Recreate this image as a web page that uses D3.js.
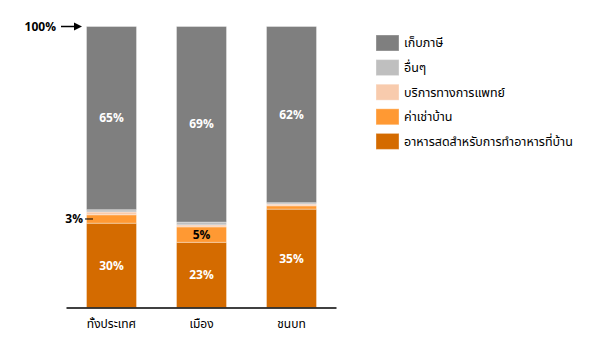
<!DOCTYPE html>
<html>
<head>
<meta charset="utf-8">
<script src="https://cdn.jsdelivr.net/npm/d3@7"></script>
<style>
body { margin: 0; background: #fff; }
svg text { font-family: "Noto Sans Thai", Tahoma, "Noto Sans", sans-serif; }
</style>
</head>
<body>
<svg id="chart" width="601" height="346"></svg>
<script>
var categories = ["ทั้งประเทศ", "เมือง", "ชนบท"];
// shares in percent, bottom to top
var food    = [30, 23.2, 35];
var rent    = [3, 5.5, 1.2];
var medical = [1, 0.7, 0.6];
var other   = [0.8, 1, 0.5];
var tax     = [65.2, 69.6, 62.7];
var taxLabels  = ["65%", "69%", "62%"];
var foodLabels = ["30%", "23%", "35%"];
var rentLabels = ["3%", "5%", ""];
var seriesNames = ["อาหารสดสำหรับการทำอาหารที่บ้าน", "ค่าเช่าบ้าน", "บริการทางการแพทย์", "อื่นๆ", "เก็บภาษี"];
var colors = ["#d46b00", "#ff9933", "#f8cbad", "#bfbfbf", "#7f7f7f"];

var svg = d3.select("#chart");
var x = d3.scaleBand().domain(categories).range([66.5, 336.5])
    .paddingInner(4/9).paddingOuter(2/9);
var y = d3.scaleLinear().domain([0, 100]).range([307.5, 26.5]);

var rows = categories.map((c,i) => ({cat:c, food:food[i], rent:rent[i], medical:medical[i], other:other[i], tax:tax[i]}));
var keys = ["food","rent","medical","other","tax"];
var stack = d3.stack().keys(keys)(rows);

var g = svg.append("g");
g.selectAll("g.s").data(stack).enter().append("g")
    .attr("fill", (_,i)=>colors[i])
  .selectAll("rect").data(d=>d).enter().append("rect")
    .attr("x", d=>x(d.data.cat))
    .attr("width", x.bandwidth())
    .attr("y", d=>y(d[1]))
    .attr("height", d=>y(d[0])-y(d[1]))
    .attr("stroke", "rgba(255,255,255,0.35)")
    .attr("stroke-width", 1);

// axis baseline
svg.append("line")
    .attr("x1", 66.5).attr("x2", 336.5)
    .attr("y1", y(0)+0.5).attr("y2", y(0)+0.5)
    .attr("stroke", "#000").attr("stroke-width", 1.5);

svg.selectAll("text.cat").data(categories).enter().append("text")
    .attr("x", d=>x(d)+x.bandwidth()/2)
    .attr("y", 328)
    .attr("text-anchor", "middle")
    .attr("font-size", 12)
    .attr("fill", "#000")
    .text(d=>d);

var mid = (s,i) => y((stack[s][i][0]+stack[s][i][1])/2);
var cx = c => x(c)+x.bandwidth()/2;

// value labels
svg.selectAll("text.tax").data(categories).enter().append("text")
    .attr("x", cx).attr("y", (_,i)=>mid(4,i))
    .attr("dy", "0.35em").attr("text-anchor","middle")
    .attr("font-size", 12).attr("font-weight","bold").attr("fill","#fff")
    .text((_,i)=>taxLabels[i]);
svg.selectAll("text.food").data(categories).enter().append("text")
    .attr("x", cx).attr("y", (_,i)=>mid(0,i))
    .attr("dy", "0.35em").attr("text-anchor","middle")
    .attr("font-size", 12).attr("font-weight","bold").attr("fill","#fff")
    .text((_,i)=>foodLabels[i]);
// 5% inside city bar
svg.append("text")
    .attr("x", cx(categories[1])).attr("y", mid(1,1))
    .attr("dy", "0.35em").attr("text-anchor","middle")
    .attr("font-size", 12).attr("font-weight","bold").attr("fill","#000")
    .text(rentLabels[1]);
// 3% outside with leader
svg.append("text")
    .attr("x", x(categories[0])-3.5).attr("y", mid(1,0))
    .attr("dy", "0.35em").attr("text-anchor","end")
    .attr("font-size", 12).attr("font-weight","bold").attr("fill","#000")
    .text(rentLabels[0]);
svg.append("line")
    .attr("x1", x(categories[0])-1.5).attr("x2", x(categories[0])+6.5)
    .attr("y1", mid(1,0)).attr("y2", mid(1,0))
    .attr("stroke","#000").attr("stroke-width",1);

// 100% marker
svg.append("text")
    .attr("x", 56).attr("y", y(100)).attr("dy","0.35em")
    .attr("text-anchor","end")
    .attr("font-size", 12).attr("font-weight","bold").attr("fill","#000")
    .text("100%");
svg.append("line")
    .attr("x1", 61).attr("x2", 76).attr("y1", y(100)).attr("y2", y(100))
    .attr("stroke","#000").attr("stroke-width",1.5);
svg.append("path")
    .attr("d", `M74,${y(100)-4}L82,${y(100)}L74,${y(100)+4}Z`)
    .attr("fill","#000");

// legend
var legend = svg.append("g").attr("transform","translate(376,35)")
  .selectAll("g").data(d3.range(5).reverse()).enter().append("g")
    .attr("transform", (_,i)=>`translate(0,${i*24.6})`);
legend.append("rect")
    .attr("width", 23).attr("height", 16)
    .attr("fill", d=>colors[d])
    .attr("stroke", "rgba(255,255,255,0.35)");
legend.append("text")
    .attr("x", 28).attr("y", 8).attr("dy","0.35em")
    .attr("font-size", 12.5).attr("fill","#000")
    .text(d=>seriesNames[d]);
</script>
</body>
</html>
